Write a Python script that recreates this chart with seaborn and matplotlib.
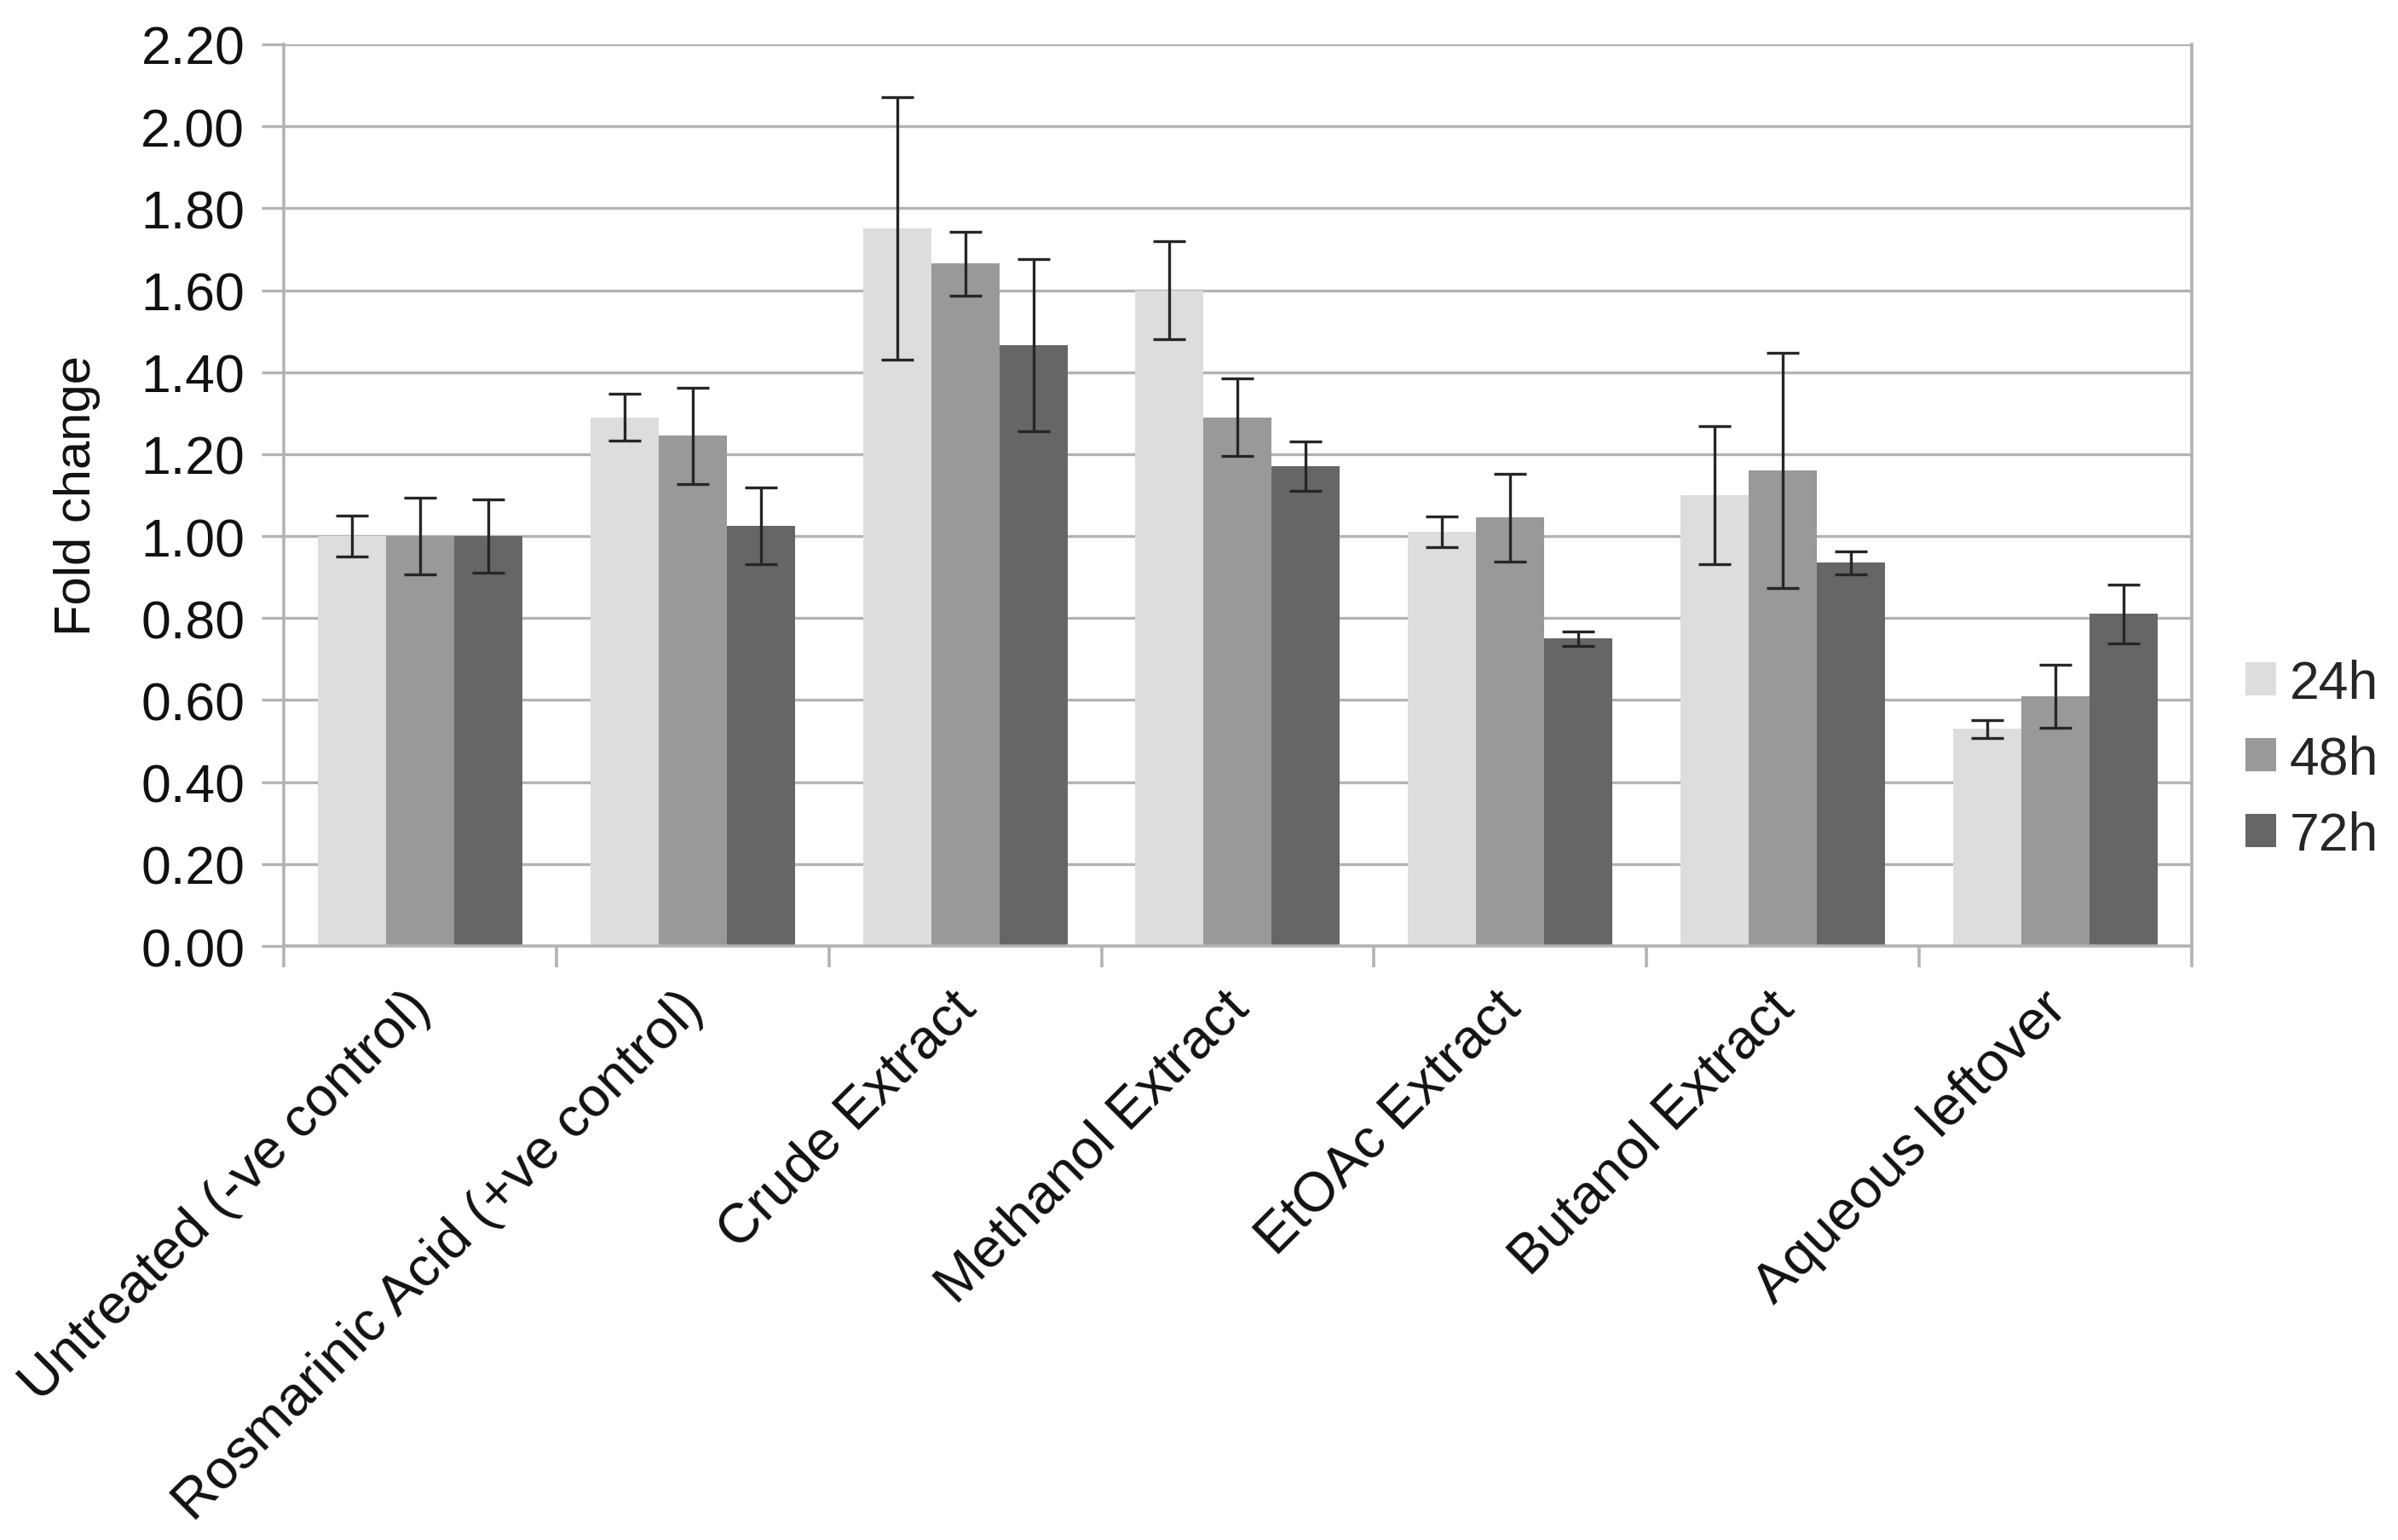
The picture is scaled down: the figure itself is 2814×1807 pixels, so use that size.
import numpy as np
import pandas as pd
import seaborn as sns
import matplotlib.pyplot as plt
from matplotlib.ticker import FixedLocator, MultipleLocator
import matplotlib.transforms as mtransforms

# data
treatments = ["Untreated (-ve control)", "Rosmarinic Acid (+ve control)", "Crude Extract",
              "Methanol Extract", "EtOAc Extract", "Butanol Extract", "Aqueous leftover"]
times = ["24h", "48h", "72h"]

fold_24h = [1.00, 1.29, 1.75, 1.60, 1.01, 1.10, 0.53]
fold_48h = [1.00, 1.245, 1.665, 1.29, 1.045, 1.16, 0.61]
fold_72h = [1.00, 1.025, 1.465, 1.17, 0.75, 0.935, 0.81]

err_24h = [0.05, 0.057, 0.32, 0.12, 0.037, 0.169, 0.022]
err_48h = [0.093, 0.118, 0.078, 0.094, 0.108, 0.287, 0.077]
err_72h = [0.09, 0.093, 0.21, 0.06, 0.018, 0.028, 0.072]

colors = ["#dddddd", "#999999", "#666666"]

folds = [fold_24h, fold_48h, fold_72h]
errs = [err_24h, err_48h, err_72h]

rows = []
for t, vals in zip(times, folds):
    for name, v in zip(treatments, vals):
        rows.append({"Treatment": name, "Time": t, "Fold change": v})
df = pd.DataFrame(rows)

sns.set_style("white")
plt.rcParams['font.family'] = ['Liberation Sans', 'DejaVu Sans']
fs = 22.5
fs_x = 23.5
grey = "#b3b3b3"
txt = "#111111"

fig = plt.figure(figsize=(14.07, 9.04), dpi=200)
ax = fig.add_axes([0.1183, 0.3855, 0.7957, 0.5852])

sns.barplot(data=df, x="Treatment", y="Fold change", hue="Time", order=treatments,
            hue_order=times, palette=colors, width=0.75, saturation=1,
            errorbar=None, linewidth=0, ax=ax)

# error bars at the bar centres seaborn placed
for cont, e in zip(ax.containers, errs):
    xs = [b.get_x() + b.get_width() / 2 for b in cont]
    hs = [b.get_height() for b in cont]
    ax.errorbar(xs, hs, yerr=e, fmt="none", ecolor="#262626", elinewidth=1.2,
                capsize=6.8, capthick=1.2, zorder=5)

ax.set_xlim(-0.5, 6.5)
ax.set_ylim(0, 2.2)
ax.yaxis.set_major_locator(MultipleLocator(0.2))
ax.yaxis.set_major_formatter(plt.FuncFormatter(lambda v, p: f"{v:.2f}"))
ax.set_axisbelow(True)
ax.grid(axis="y", color=grey, linewidth=1.2)
ax.grid(axis="x", visible=False)

for side in ["left", "bottom", "right"]:
    ax.spines[side].set_visible(True)
    ax.spines[side].set_color(grey)
    ax.spines[side].set_linewidth(1.3)
ax.spines["top"].set_visible(False)

ax.tick_params(axis="y", which="major", left=True, length=9.4, width=1.2, color=grey,
               pad=7, labelsize=fs, labelcolor=txt)
ax.xaxis.set_minor_locator(FixedLocator(np.arange(-0.5, 7, 1)))
ax.tick_params(axis="x", which="minor", bottom=True, length=9, width=1.3, color=grey)
ax.tick_params(axis="x", which="major", bottom=False, length=0, pad=15,
               labelsize=fs_x, labelcolor=txt)

offset = mtransforms.ScaledTranslation(-0.09, 0, fig.dpi_scale_trans)
for lab in ax.get_xticklabels():
    lab.set_rotation(45)
    lab.set_ha("right")
    lab.set_va("top")
    lab.set_rotation_mode("anchor")
    lab.set_transform(lab.get_transform() + offset)

ax.set_xlabel("")
ax.set_ylabel("Fold change", fontsize=21.5, color=txt)
ax.yaxis.set_label_coords(-0.096, 0.5)

handles, labels = ax.get_legend_handles_labels()
ax.legend(handles, labels, loc="center left", bbox_to_anchor=(1.028, 0.207),
          frameon=False, fontsize=fs, handlelength=0.58, handleheight=0.58,
          handletextpad=0.25, labelspacing=0.48, borderpad=0, borderaxespad=0)

fig.savefig("out.png", dpi=200)
